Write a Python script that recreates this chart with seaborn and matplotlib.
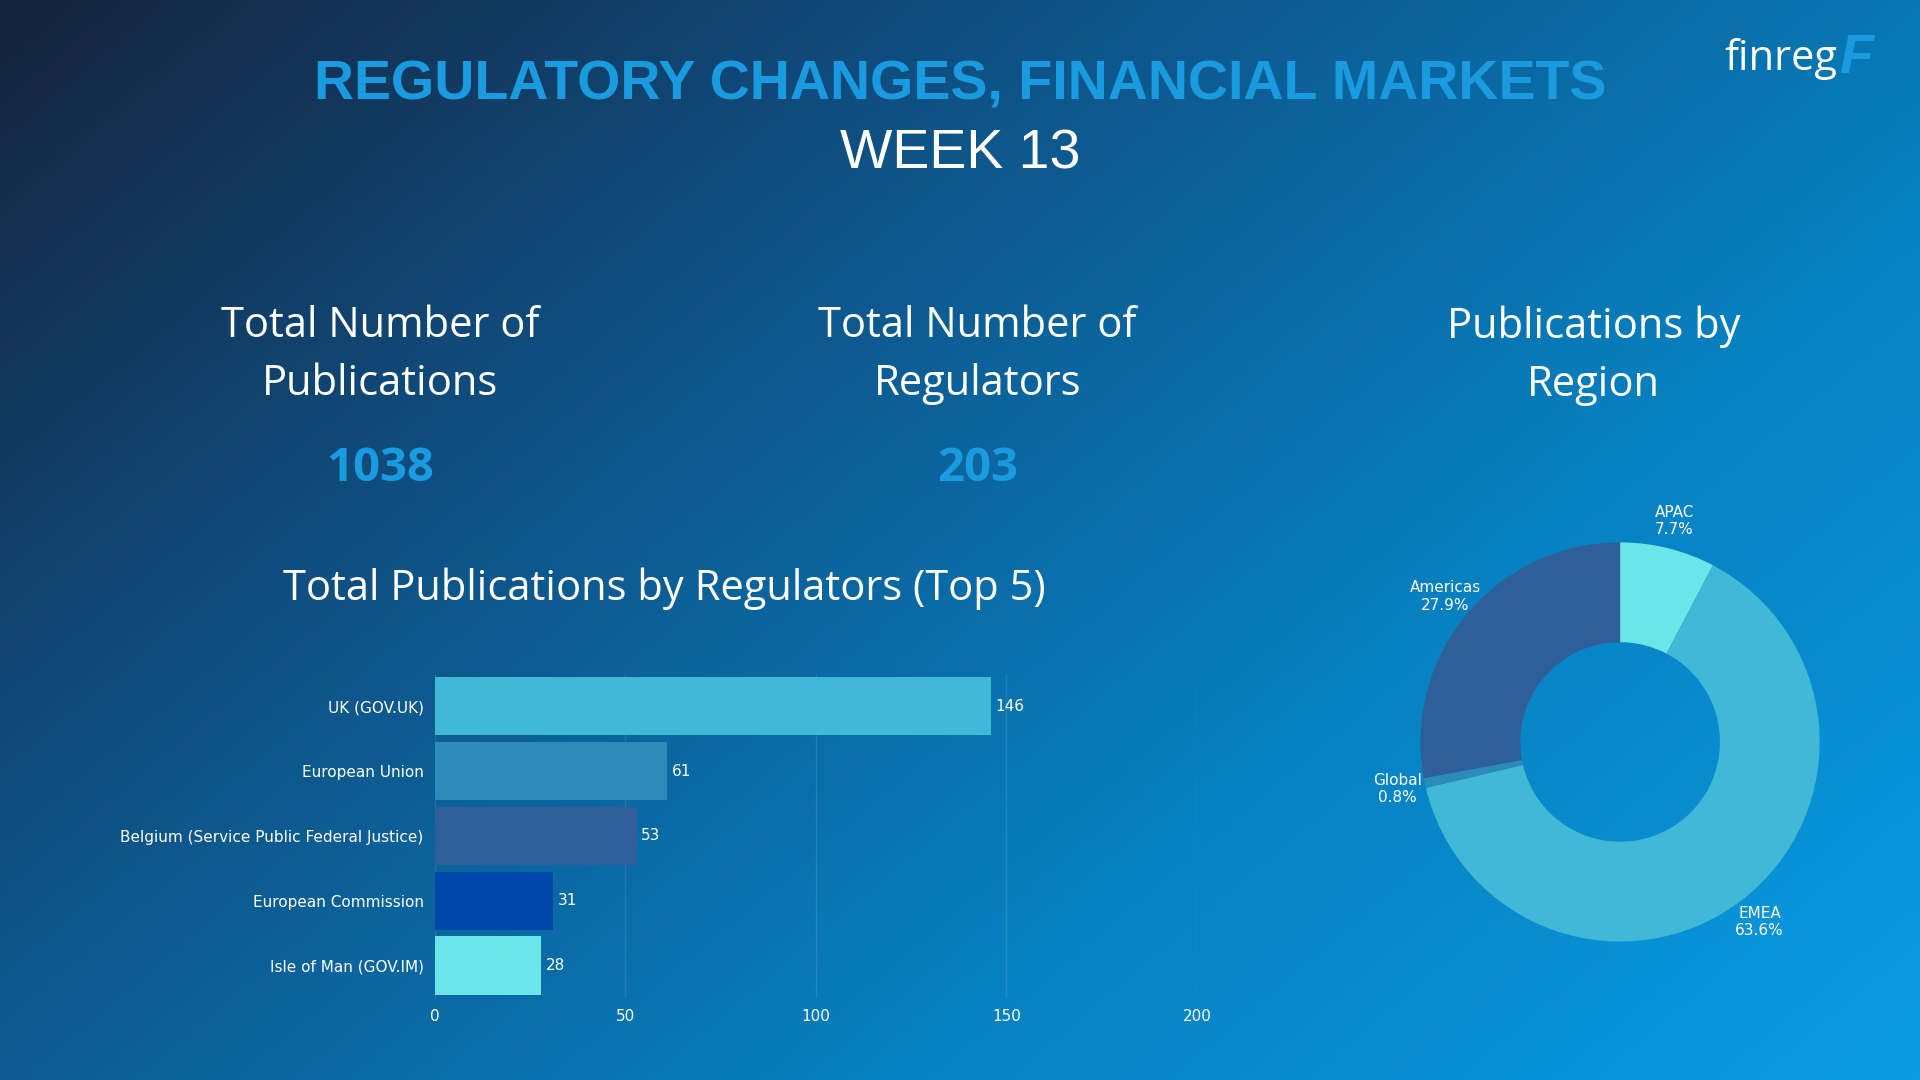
import numpy as np
import pandas as pd
import matplotlib.pyplot as plt
import seaborn as sns
from matplotlib.colors import LinearSegmentedColormap

regulators = ['UK (GOV.UK)', 'European Union', 'Belgium (Service Public Federal Justice)',
              'European Commission', 'Isle of Man (GOV.IM)']
publications = [146, 61, 53, 31, 28]
bar_colors = ['#41b8d5', '#2d8bba', '#2f5f98', '#0047ab', '#6ce5e8']

regions = ['APAC', 'EMEA', 'Global', 'Americas']
region_share = [7.7, 63.6, 0.8, 27.9]
region_colors = ['#6ce5e8', '#41b8d5', '#2d8bba', '#2f5f98']

total_pubs = 1038
total_regs = 203
x_ticks = [0, 50, 100, 150, 200]

fig = plt.figure(figsize=(19.2, 10.8), dpi=100)

# gradient background
bg = fig.add_axes([0, 0, 1, 1])
xx, yy = np.meshgrid(np.linspace(0, 1, 400), np.linspace(0, 1, 300))
grad = (xx * 0.6 + yy * 0.4)
cmap = LinearSegmentedColormap.from_list('bg', ['#16233d', '#0f5286', '#0780c0', '#0a9be3'])
bg.imshow(grad, cmap=cmap, aspect='auto', extent=[0, 1, 0, 1], origin='upper')
bg.axis('off')

blue = '#1a9be0'
fig.text(0.5, 0.921, 'REGULATORY CHANGES, FINANCIAL MARKETS', ha='center', va='center',
         color=blue, fontsize=40, fontweight='bold', family='Liberation Sans')
fig.text(0.5, 0.857, 'WEEK 13', ha='center', va='center', color='white',
         fontsize=40, family='Liberation Sans')
fig.text(0.957, 0.945, 'finreg', ha='right', va='center', color='white', fontsize=30, family='Open Sans')
fig.text(0.958, 0.945, 'F', ha='left', va='center', color='#1a9be0', fontsize=40,
         fontweight='bold', style='italic', family='Liberation Sans')

kpi_font = dict(ha='center', va='center', color='white', fontsize=30, family='Open Sans', linespacing=1.5)
fig.text(0.198, 0.671, 'Total Number of\nPublications', **kpi_font)
fig.text(0.509, 0.671, 'Total Number of\nRegulators', **kpi_font)
fig.text(0.830, 0.671, 'Publications by\nRegion', **kpi_font)
fig.text(0.198, 0.566, str(total_pubs), ha='center', va='center', color=blue, fontsize=34,
         fontweight='bold', family='Open Sans')
fig.text(0.509, 0.566, str(total_regs), ha='center', va='center', color=blue, fontsize=34,
         fontweight='bold', family='Open Sans')
fig.text(0.346, 0.455, 'Total Publications by Regulators (Top 5)', ha='center', va='center',
         color='white', fontsize=30, family='Open Sans')

# bar chart
ax = fig.add_axes([0.2264, 0.076, 0.397, 0.300])
ax.patch.set_alpha(0)
df = pd.DataFrame({'regulator': regulators, 'count': publications})
sns.barplot(data=df, x='count', y='regulator', hue='regulator', palette=bar_colors,
            saturation=1, legend=False, ax=ax, width=0.9, zorder=3)
for p, v in zip(ax.patches, publications):
    ax.text(p.get_width() + 1.2, p.get_y() + p.get_height() / 2, str(v),
            va='center', ha='left', color='white', fontsize=11)
ax.set_xlim(0, 200)
ax.set_xticks(x_ticks)
ax.grid(axis='x', color='white', alpha=0.1, lw=1, zorder=0)
ax.set_xlabel('')
ax.set_ylabel('')
ax.tick_params(colors='white', labelsize=11, length=0, pad=8)
for s in ax.spines.values():
    s.set_visible(False)

# donut
pax = fig.add_axes([0.8438 - 0.13, 0.313 - 0.231, 0.26, 0.462])
wedges, texts = pax.pie(region_share, colors=region_colors, startangle=90, counterclock=False,
                        labels=[f'{r}\n{s}%' for r, s in zip(regions, region_share)],
                        labeldistance=1.14, wedgeprops=dict(width=0.5),
                        textprops=dict(color='white', fontsize=11, ha='center'))
pax.set_aspect('equal')

fig.savefig('out.png', dpi=100)
